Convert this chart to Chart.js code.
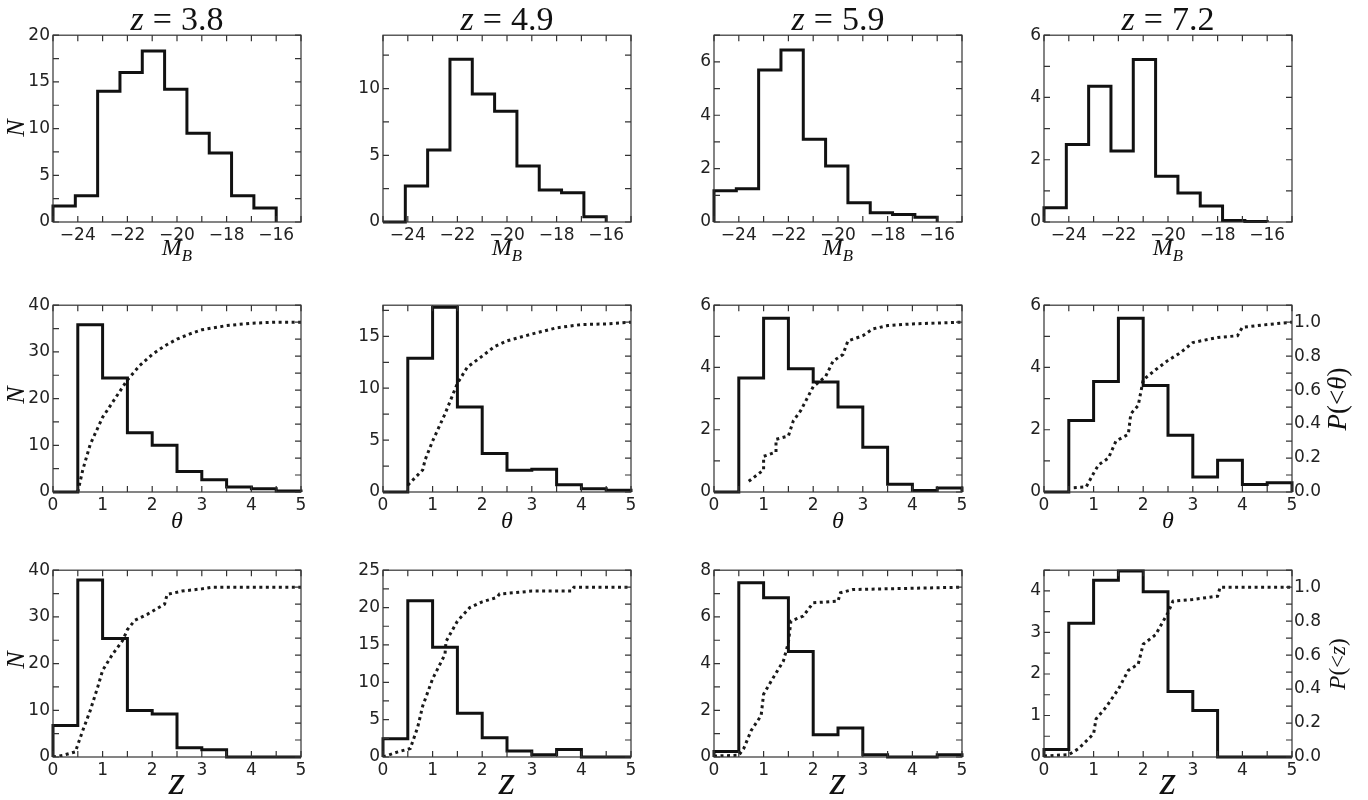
<!DOCTYPE html>
<html>
<head>
<meta charset="utf-8">
<script src="https://cdn.jsdelivr.net/npm/chart.js@4.4.1/dist/chart.umd.min.js"></script>
<style>
body { margin: 0; background: #fff; }
#fig { position: relative; width: 1368px; height: 800px; overflow: hidden; font-family: "Liberation Serif", serif; color: #111; }
.panel { position: absolute; width: 348px; height: 230px; }
.lbl { position: absolute; white-space: nowrap; line-height: 1; transform: translate(-50%, -50%); }
.rot { transform: translate(-50%, -50%) rotate(-90deg); }
.ttl span { margin: 0 9px; }
sub { font-size: 0.7em; }
</style>
</head>
<body>
<div id="fig"></div>
<script>
// redshift of each column
const redshifts = ['3.8', '4.9', '5.9', '7.2'];

// bins
const mbEdges = [-25, -24.1, -23.2, -22.3, -21.4, -20.5, -19.6, -18.7, -17.8, -16.9, -16.0];
const binEdges = [0, 0.5, 1, 1.5, 2, 2.5, 3, 3.5, 4, 4.5, 5];

// tick labels
const mbTicks = [-24, -22, -20, -18, -16];
const unitTicks = [0, 1, 2, 3, 4, 5];
const pTicks = [0, 0.2, 0.4, 0.6, 0.8, 1.0];

// row 1: N(M_B)
const mbN38 = [1.7, 2.8, 14.0, 16.0, 18.3, 14.2, 9.5, 7.4, 2.8, 1.5];
const mbN49 = [0, 2.7, 5.4, 12.2, 9.6, 8.3, 4.2, 2.4, 2.2, 0.4];
const mbN59 = [1.17, 1.25, 5.7, 6.45, 3.1, 2.1, 0.72, 0.35, 0.28, 0.18];
const mbN72 = [0.46, 2.49, 4.36, 2.28, 5.22, 1.47, 0.93, 0.51, 0.05, 0.02];

// row 2: N(theta) and P(<theta)
const thN38 = [0, 35.8, 24.4, 12.7, 10.0, 4.4, 2.6, 1.07, 0.7, 0.2];
const thN49 = [0, 12.9, 17.8, 8.2, 3.7, 2.1, 2.2, 0.7, 0.32, 0.16];
const thN59 = [0, 3.66, 5.58, 3.96, 3.53, 2.73, 1.44, 0.25, 0.05, 0.13];
const thN72 = [0, 2.3, 3.55, 5.58, 3.42, 1.82, 0.48, 1.02, 0.24, 0.30];

const th38X = [0.5, 0.6, 0.75, 1.0, 1.25, 1.5, 1.75, 2.0, 2.25, 2.5, 2.75, 3.0, 3.5, 4.0, 4.5, 5.0];
const th38P = [0, 0.13, 0.28, 0.44, 0.55, 0.66, 0.745, 0.81, 0.86, 0.90, 0.93, 0.955, 0.98, 0.994, 1.0, 1.0];
const th49X = [0.5, 0.8, 0.85, 1.0, 1.25, 1.5, 1.7, 2.0, 2.25, 2.5, 3.0, 3.5, 4.0, 4.5, 5.0];
const th49P = [0.04, 0.13, 0.19, 0.30, 0.46, 0.64, 0.735, 0.80, 0.857, 0.89, 0.93, 0.967, 0.986, 0.99, 1.0];
const th59X = [0.7, 1.0, 1.0, 1.25, 1.25, 1.5, 1.6, 1.75, 2.0, 2.25, 2.4, 2.6, 2.7, 3.0, 3.2, 3.5, 4.0, 5.0];
const th59P = [0.063, 0.13, 0.21, 0.235, 0.31, 0.33, 0.42, 0.48, 0.62, 0.68, 0.77, 0.81, 0.89, 0.92, 0.96, 0.98, 0.99, 1.0];
const th72X = [0.6, 0.85, 1.0, 1.1, 1.3, 1.45, 1.7, 1.75, 1.9, 2.0, 2.25, 2.5, 2.75, 3.0, 3.5, 3.9, 4.0, 4.5, 5.0];
const th72P = [0.025, 0.03, 0.11, 0.16, 0.20, 0.30, 0.34, 0.46, 0.51, 0.66, 0.72, 0.775, 0.82, 0.88, 0.91, 0.92, 0.97, 0.986, 1.0];

// row 3: N(z) and P(<z)
const zN38 = [6.75, 37.9, 25.4, 9.95, 9.2, 2.0, 1.56, 0, 0, 0];
const zN49 = [2.44, 20.9, 14.7, 5.87, 2.58, 0.8, 0.3, 1.0, 0, 0];
const zN59 = [0.24, 7.46, 6.82, 4.52, 0.95, 1.24, 0.1, 0, 0, 0.1];
const zN72 = [0.18, 3.22, 4.26, 4.48, 3.98, 1.58, 1.12, 0, 0, 0];

const z38X = [0, 0.2, 0.45, 0.6, 0.75, 0.9, 1.0, 1.2, 1.4, 1.5, 1.65, 1.9, 2.25, 2.3, 2.6, 3.0, 3.2, 5.0];
const z38P = [0, 0.01, 0.03, 0.156, 0.273, 0.41, 0.51, 0.605, 0.684, 0.75, 0.805, 0.84, 0.90, 0.957, 0.977, 0.99, 1.0, 1.0];
const z49X = [0, 0.3, 0.55, 0.7, 0.8, 1.0, 1.25, 1.27, 1.5, 1.75, 2.0, 2.3, 2.35, 2.75, 3.0, 3.8, 3.85, 5.0];
const z49P = [0, 0.03, 0.05, 0.176, 0.30, 0.46, 0.605, 0.68, 0.80, 0.88, 0.914, 0.94, 0.96, 0.97, 0.977, 0.977, 1.0, 1.0];
const z59X = [0, 0.5, 0.6, 0.75, 0.95, 1.0, 1.2, 1.4, 1.5, 1.55, 1.8, 2.0, 2.5, 2.55, 2.8, 5.0];
const z59P = [0.006, 0.01, 0.05, 0.156, 0.244, 0.37, 0.47, 0.566, 0.674, 0.80, 0.83, 0.908, 0.918, 0.967, 0.986, 1.0];
const z72X = [0, 0.5, 0.7, 1.0, 1.05, 1.25, 1.5, 1.7, 1.9, 2.0, 2.25, 2.5, 2.6, 3.0, 3.5, 3.55, 5.0];
const z72P = [0.006, 0.014, 0.05, 0.137, 0.225, 0.293, 0.40, 0.51, 0.547, 0.664, 0.72, 0.85, 0.918, 0.928, 0.947, 1.0, 1.0];

const rows = [
    { edges: mbEdges, xMin: -25, xMax: -15, xTicks: mbTicks, xMinor: 1,
      counts: [mbN38, mbN49, mbN59, mbN72],
      yMax: [20, 14, 7, 6], yMinor: [2.5, 2.5, 1, 1],
      yTicks: [[0, 5, 10, 15, 20], [0, 5, 10], [0, 2, 4, 6], [0, 2, 4, 6]] },
    { edges: binEdges, xMin: 0, xMax: 5, xTicks: unitTicks, xMinor: 0.5,
      counts: [thN38, thN49, thN59, thN72],
      cdfX: [th38X, th49X, th59X, th72X], cdfP: [th38P, th49P, th59P, th72P],
      yMax: [40, 18, 6, 6], yMinor: [5, 2.5, 1, 1],
      yTicks: [[0, 10, 20, 30, 40], [0, 5, 10, 15], [0, 2, 4, 6], [0, 2, 4, 6]] },
    { edges: binEdges, xMin: 0, xMax: 5, xTicks: unitTicks, xMinor: 0.5,
      counts: [zN38, zN49, zN59, zN72],
      cdfX: [z38X, z49X, z59X, z72X], cdfP: [z38P, z49P, z59P, z72P],
      yMax: [40, 25, 8, 4.5], yMinor: [5, 2.5, 1, 0.5],
      yTicks: [[0, 10, 20, 30, 40], [0, 5, 10, 15, 20, 25], [0, 2, 4, 6, 8], [0, 1, 2, 3, 4]] }
];

const colLeft = [53, 383, 714, 1044];
const rowTop = [34, 304, 569];
const tickFont = { family: 'DejaVu Sans', size: 17 };
const ink = '#111';

// frame round the plot area and inward ticks (matplotlib style)
const frame = {
    id: 'frame',
    afterDraw(chart, args, o) {
        const { ctx, chartArea: a, scales } = chart;
        const L = 6;
        ctx.save();
        ctx.strokeStyle = '#333';
        ctx.lineWidth = 1.2;
        ctx.strokeRect(a.left, a.top, a.right - a.left, a.bottom - a.top);
        ctx.beginPath();
        const x = scales.x;
        const x0 = Math.ceil(x.min / o.xMinor - 1e-9);
        for (let i = x0; i * o.xMinor <= x.max + 1e-9; i++) {
            const px = x.getPixelForValue(i * o.xMinor);
            ctx.moveTo(px, a.bottom); ctx.lineTo(px, a.bottom - L);
            ctx.moveTo(px, a.top); ctx.lineTo(px, a.top + L);
        }
        const y = scales.y;
        for (let i = 0; i * o.yMinor <= y.max + 1e-9; i++) {
            const py = y.getPixelForValue(i * o.yMinor);
            ctx.moveTo(a.left, py); ctx.lineTo(a.left + L, py);
            if (o.mirror) { ctx.moveTo(a.right, py); ctx.lineTo(a.right - L, py); }
        }
        if (!o.mirror) {
            const y2 = scales.y2;
            for (let i = 0; i * 0.1 <= y2.max + 1e-9; i++) {
                const py = y2.getPixelForValue(i * 0.1);
                ctx.moveTo(a.right, py); ctx.lineTo(a.right - L, py);
            }
        }
        ctx.stroke();
        ctx.restore();
    }
};

function stepPoints(edges, counts) {
    const pts = [{ x: edges[0], y: 0 }];
    counts.forEach((c, i) => pts.push({ x: edges[i], y: c }));
    pts.push({ x: edges[edges.length - 1], y: 0 });
    return pts;
}

const fmt = v => String(v).replace('-', '\u2212');
const fixTicks = list => s => { s.ticks = list.map(v => ({ value: v })); };
const noGrid = { display: false, drawTicks: false };

const fig = document.getElementById('fig');

rows.forEach((row, r) => {
    row.counts.forEach((counts, c) => {
        const div = document.createElement('div');
        div.className = 'panel';
        div.style.left = (colLeft[c] - 50) + 'px';
        div.style.top = (rowTop[r] - 12) + 'px';
        const cv = document.createElement('canvas');
        div.appendChild(cv);
        fig.appendChild(div);

        const datasets = [{
            data: stepPoints(row.edges, counts),
            stepped: 'before',
            borderColor: ink, borderWidth: 3,
            pointRadius: 0, fill: false, borderJoinStyle: 'miter', clip: 3
        }];
        if (row.cdfX) {
            datasets.push({
                data: row.cdfX[c].map((x, i) => ({ x: x, y: row.cdfP[c][i] })),
                yAxisID: 'y2',
                borderColor: '#1a1a1a', borderWidth: 3, borderDash: [3, 3.5],
                pointRadius: 0, fill: false, tension: 0
            });
        }
        const showP = row.cdfX && c === 3;

        new Chart(cv, {
            type: 'line',
            data: { datasets: datasets },
            options: {
                responsive: true,
                maintainAspectRatio: false,
                animation: false,
                events: [],
                layout: { padding: { top: 12, left: 0, right: 0, bottom: 0 } },
                scales: {
                    x: {
                        type: 'linear', min: row.xMin, max: row.xMax,
                        grid: noGrid, border: { display: false },
                        ticks: { font: tickFont, color: '#222', padding: 3, maxRotation: 0, autoSkip: false, callback: fmt },
                        afterBuildTicks: fixTicks(row.xTicks),
                        afterFit: s => { s.height = 30; }
                    },
                    y: {
                        type: 'linear', position: 'left', min: 0, max: row.yMax[c],
                        grid: noGrid, border: { display: false },
                        ticks: { font: tickFont, color: '#222', padding: 3, autoSkip: false, callback: fmt },
                        afterBuildTicks: fixTicks(row.yTicks[c]),
                        afterFit: s => { s.width = 50; }
                    },
                    y2: {
                        type: 'linear', position: 'right', min: 0, max: 1.1,
                        grid: noGrid, border: { display: false },
                        ticks: { display: !!showP, font: tickFont, color: '#222', padding: 2, autoSkip: false,
                                 callback: v => v.toFixed(1) },
                        afterBuildTicks: fixTicks(pTicks),
                        afterFit: s => { s.width = 50; }
                    }
                },
                plugins: {
                    legend: { display: false },
                    tooltip: { enabled: false },
                    frame: { xMinor: row.xMinor, yMinor: row.yMinor[c], mirror: !row.cdfX }
                }
            },
            plugins: [frame]
        });
    });
});

// text: titles and axis labels
function addLabel(html, x, y, size, cls) {
    const d = document.createElement('div');
    d.className = 'lbl ' + (cls || '');
    d.style.left = x + 'px';
    d.style.top = y + 'px';
    d.style.fontSize = size + 'px';
    d.innerHTML = html;
    fig.appendChild(d);
}

const colCenter = colLeft.map(l => l + 124);
redshifts.forEach((zs, c) => {
    addLabel('<i>z</i><span>=</span>' + zs, colCenter[c], 19, 34, 'ttl');
    addLabel('<i>M</i><sub><i>B</i></sub>', colCenter[c], 250, 24);
    addLabel('<i>\u03b8</i>', colCenter[c], 520, 24);
    addLabel('<i>z</i>', colCenter[c], 780, 42);
});
[128, 395, 660].forEach(y => addLabel('<i>N</i>', 16, y, 26, 'rot'));
addLabel('<i>P</i>(&lt;<i>\u03b8</i>)', 1337, 399, 27, 'rot');
addLabel('<i>P</i>(&lt;<i>z</i>)', 1337, 664, 23, 'rot');
</script>
</body>
</html>
